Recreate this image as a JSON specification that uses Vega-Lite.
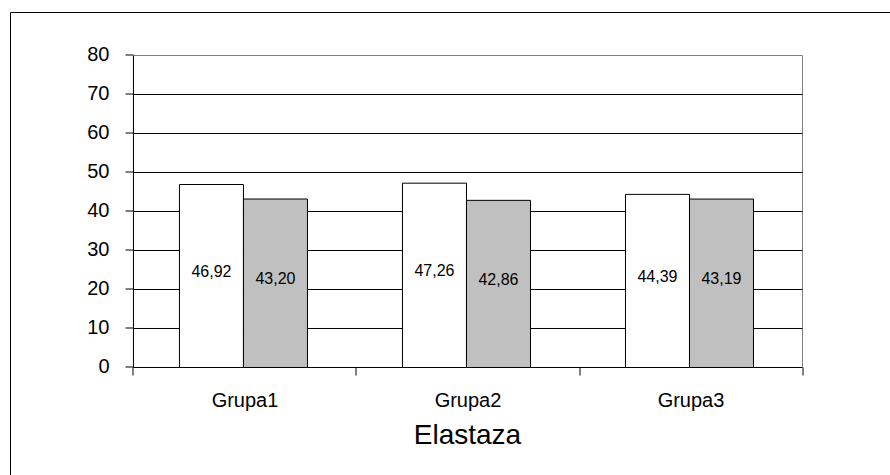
{
  "$schema": "https://vega.github.io/schema/vega-lite/v6.json",
  "width": 880,
  "height": 463,
  "autosize": {"type": "none"},
  "padding": {"left": 10, "top": 12, "right": 0, "bottom": 0},
  "background": "white",
  "config": {
    "view": {"stroke": null},
    "font": "Liberation Sans",
    "locale": {
      "number": {"decimal": ",", "thousands": " ", "grouping": [3], "currency": ["", " zł"]}
    }
  },
  "datasets": {
    "elastaza": [
      {"grupa": "Grupa1", "seria": "Seria1", "wartosc": 46.92},
      {"grupa": "Grupa1", "seria": "Seria2", "wartosc": 43.20},
      {"grupa": "Grupa2", "seria": "Seria1", "wartosc": 47.26},
      {"grupa": "Grupa2", "seria": "Seria2", "wartosc": 42.86},
      {"grupa": "Grupa3", "seria": "Seria1", "wartosc": 44.39},
      {"grupa": "Grupa3", "seria": "Seria2", "wartosc": 43.19}
    ],
    "siatka": [
      {"poziom": 0}, {"poziom": 10}, {"poziom": 20}, {"poziom": 30},
      {"poziom": 40}, {"poziom": 50}, {"poziom": 60}, {"poziom": 70}
    ]
  },
  "resolve": {"axis": {"x": "independent", "y": "independent"}},
  "layer": [
    {
      "description": "Plot area border (grey) plus the outer frame lines drawn by the axes' domains",
      "data": {"values": [{}]},
      "mark": {"type": "rect", "filled": false, "stroke": "#808080", "strokeWidth": 1},
      "encoding": {
        "x": {
          "datum": "Grupa1", "type": "nominal", "bandPosition": 0,
          "scale": {"type": "band", "domain": ["Grupa1", "Grupa2", "Grupa3"], "paddingInner": 0, "paddingOuter": 0.473, "align": 0.5853},
          "axis": {"orient": "top", "offset": 0, "domain": true, "domainColor": "black", "domainWidth": 1, "ticks": false, "labels": false, "grid": false, "title": null}
        },
        "x2": {"datum": "Grupa3", "bandPosition": 1},
        "y": {
          "datum": 0, "type": "quantitative",
          "scale": {"domain": [-27.5641, 91.1538], "nice": false, "zero": false},
          "axis": {"orient": "left", "offset": 0, "domain": true, "domainColor": "black", "domainWidth": 1, "ticks": false, "labels": false, "grid": false, "title": null}
        },
        "y2": {"datum": 80}
      }
    },
    {
      "description": "Horizontal gridlines and the category baseline",
      "data": {"name": "siatka"},
      "mark": {"type": "rule", "color": "black", "strokeWidth": 1},
      "encoding": {
        "x": {"datum": "Grupa1", "type": "nominal", "bandPosition": 0, "axis": null},
        "x2": {"datum": "Grupa3", "bandPosition": 1},
        "y": {"field": "poziom", "type": "quantitative", "axis": null}
      }
    },
    {
      "description": "Value axis line",
      "data": {"values": [{}]},
      "mark": {"type": "rule", "color": "black", "strokeWidth": 1},
      "encoding": {
        "x": {"datum": "Grupa1", "type": "nominal", "bandPosition": 0, "axis": null},
        "y": {"datum": 0, "type": "quantitative", "axis": null},
        "y2": {"datum": 80}
      }
    },
    {
      "data": {"name": "elastaza"},
      "mark": {"type": "bar", "stroke": "black", "strokeWidth": 1},
      "encoding": {
        "x": {
          "field": "grupa", "type": "nominal",
          "scale": {"type": "band", "domain": ["Grupa1", "Grupa2", "Grupa3"], "paddingInner": 0, "paddingOuter": 0.473, "align": 0.5853},
          "axis": {
            "orient": "bottom", "offset": -107.5, "translate": 0, "tickBand": "extent",
            "domain": false, "grid": false, "ticks": true, "tickSize": 8, "tickColor": "black", "tickWidth": 1,
            "labelFontSize": 20, "labelColor": "black", "labelPadding": 15, "labelAngle": 0,
            "title": "Elastaza", "titleFontSize": 28, "titleFontWeight": "normal", "titleColor": "black",
            "titlePadding": 11, "titleX": 457.5
          }
        },
        "xOffset": {
          "field": "seria", "type": "nominal",
          "scale": {"paddingInner": 0, "paddingOuter": 0.742, "align": 0.484}
        },
        "y": {
          "field": "wartosc", "type": "quantitative",
          "scale": {"domain": [-27.5641, 91.1538], "nice": false, "zero": false},
          "axis": {
            "orient": "left", "offset": -123.5, "translate": 0,
            "values": [0, 10, 20, 30, 40, 50, 60, 70, 80],
            "domain": false, "grid": false, "ticks": true, "tickSize": 8, "tickColor": "black", "tickWidth": 1,
            "labelFontSize": 20, "labelColor": "black", "labelPadding": 16, "title": null
          }
        },
        "fill": {
          "field": "seria", "type": "nominal",
          "scale": {"range": ["white", "#c0c0c0"]},
          "legend": null
        }
      }
    },
    {
      "data": {"name": "elastaza"},
      "mark": {"type": "text", "fontSize": 16, "color": "black", "baseline": "middle", "align": "center", "dy": -4},
      "encoding": {
        "x": {"field": "grupa", "type": "nominal", "axis": null},
        "xOffset": {"field": "seria", "type": "nominal"},
        "y": {"field": "wartosc", "type": "quantitative", "stack": "zero", "bandPosition": 0.5, "axis": null},
        "text": {"field": "wartosc", "type": "quantitative", "format": ".2f"}
      }
    }
  ]
}
